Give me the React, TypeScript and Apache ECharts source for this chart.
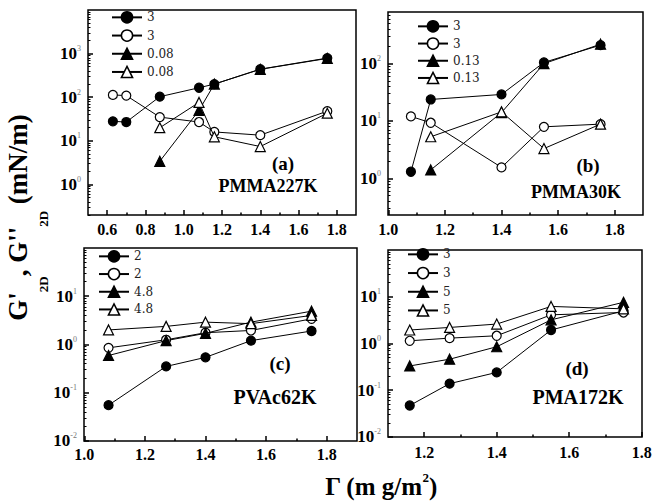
import React, { useEffect, useRef } from "react";
import * as echarts from "echarts";

const SERIF = "'Liberation Serif', 'Times New Roman', serif";

// ---- (a) PMMA227K ----
const gammaA = [0.63, 0.7, 0.875, 1.08, 1.16, 1.4, 1.75];
const gammaATri = [0.875, 1.08, 1.16, 1.4, 1.75];
const storageA3 = [28, 27, 103, 165, 200, 440, 790];
const lossA3 = [113, 109, 35, 27, 16, 13.5, 48];
const storageA008 = [3.4, 50, 200, 437, 775];
const lossA008 = [20, 76, 12.4, 7.4, 43];
const legendA = ["3", "3", "0.08", "0.08"];

// ---- (b) PMMA30K ----
const gammaB = [1.08, 1.15, 1.4, 1.55, 1.75];
const gammaBTri = [1.15, 1.4, 1.55, 1.75];
const storageB3 = [1.3, 23.7, 29, 105, 210];
const lossB3 = [12, 9.3, 1.55, 7.9, 8.8];
const storageB013 = [1.4, 14, 100, 218];
const lossB013 = [5.3, 14.4, 3.3, 8.8];
const legendB = ["3", "3", "0.13", "0.13"];

// ---- (c) PVAc62K ----
const gammaC = [1.08, 1.27, 1.4, 1.55, 1.75];
const storageC2 = [0.055, 0.35, 0.54, 1.2, 1.9];
const lossC2 = [0.85, 1.25, 1.75, 1.95, 3.4];
const storageC48 = [0.59, 1.2, 1.7, 2.9, 4.9];
const lossC48 = [2.0, 2.37, 2.9, 2.7, 4.0];
const legendC = ["2", "2", "4.8", "4.8"];

// ---- (d) PMA172K ----
const gammaD = [1.16, 1.27, 1.4, 1.55, 1.75];
const storageD3 = [0.047, 0.138, 0.24, 1.94, 5.0];
const lossD3 = [1.14, 1.3, 1.46, 4.1, 4.6];
const storageD5 = [0.33, 0.46, 0.85, 3.2, 7.6];
const lossD5 = [1.94, 2.2, 2.6, 6.2, 5.5];
const legendD = ["3", "3", "5", "5"];

// ---- tick labels ----
const xTicksA = [0.6, 0.8, 1.0, 1.2, 1.4, 1.6, 1.8];
const xMinorA = [0.7, 0.9, 1.1, 1.3, 1.5, 1.7];
const xTicksBC = [1.0, 1.2, 1.4, 1.6, 1.8];
const xMinorBC = [1.1, 1.3, 1.5, 1.7];
const xTicksD = [1.2, 1.4, 1.6, 1.8];
const xMinorD = [1.3, 1.5, 1.7];
const decadesA = [0, 1, 2, 3];
const decadesB = [0, 1, 2];
const decadesCD = [-2, -1, 0, 1];

type Line = { x: number[]; y: number[]; symbol: string; filled: boolean };
type Panel = {
  grid: { left: number; top: number; width: number; height: number };
  xRange: [number, number];
  yRange: [number, number]; // log10 extent
  xTicks: number[];
  xMinor: number[];
  decades: number[];
  labelMargin: number;
  legend: { left: number; top: number; gap: number; labels: string[] };
  lines: Line[];
  tag: { text: string; x: number; y: number };
  title: { text: string; x: number; y: number; size: number };
};

// axis ends are kept a hair outside the first/last tick so that no
// custom tick value coincides exactly with an extent bound
const panels: Panel[] = [
  {
    grid: { left: 88, top: 10, width: 268, height: 205 },
    xRange: [0.5, 1.9],
    yRange: [-0.7, 4],
    xTicks: xTicksA,
    xMinor: xMinorA,
    decades: decadesA,
    labelMargin: 6,
    legend: { left: 111, top: 11, gap: 5.5, labels: legendA },
    lines: [
      { x: gammaA, y: storageA3, symbol: "circle", filled: true },
      { x: gammaA, y: lossA3, symbol: "circle", filled: false },
      { x: gammaATri, y: storageA008, symbol: "triangle", filled: true },
      { x: gammaATri, y: lossA008, symbol: "triangle", filled: false },
    ],
    tag: { text: "(a)", x: 283, y: 163 },
    title: { text: "PMMA227K", x: 268, y: 186, size: 18 },
  },
  {
    grid: { left: 388, top: 12, width: 255, height: 203 },
    xRange: [0.999, 1.9],
    yRange: [-0.64, 2.9],
    xTicks: xTicksBC,
    xMinor: xMinorBC,
    decades: decadesB,
    labelMargin: 6,
    legend: { left: 417, top: 20, gap: 4.5, labels: legendB },
    lines: [
      { x: gammaB, y: storageB3, symbol: "circle", filled: true },
      { x: gammaB, y: lossB3, symbol: "circle", filled: false },
      { x: gammaBTri, y: storageB013, symbol: "triangle", filled: true },
      { x: gammaBTri, y: lossB013, symbol: "triangle", filled: false },
    ],
    tag: { text: "(b)", x: 588, y: 165 },
    title: { text: "PMMA30K", x: 576, y: 192, size: 18 },
  },
  {
    grid: { left: 84, top: 248, width: 273, height: 193 },
    xRange: [0.999, 1.9],
    yRange: [-2.002, 2],
    xTicks: xTicksBC,
    xMinor: xMinorBC,
    decades: decadesCD,
    labelMargin: 5,
    legend: { left: 98, top: 250, gap: 5, labels: legendC },
    lines: [
      { x: gammaC, y: storageC2, symbol: "circle", filled: true },
      { x: gammaC, y: lossC2, symbol: "circle", filled: false },
      { x: gammaC, y: storageC48, symbol: "triangle", filled: true },
      { x: gammaC, y: lossC48, symbol: "triangle", filled: false },
    ],
    tag: { text: "(c)", x: 280, y: 363 },
    title: { text: "PVAc62K", x: 275, y: 397, size: 20 },
  },
  {
    grid: { left: 388, top: 250, width: 254, height: 187 },
    xRange: [1.1, 1.801],
    yRange: [-2.002, 2],
    xTicks: xTicksD,
    xMinor: xMinorD,
    decades: decadesCD,
    labelMargin: 7,
    legend: { left: 407, top: 248, gap: 6, labels: legendD },
    lines: [
      { x: gammaD, y: storageD3, symbol: "circle", filled: true },
      { x: gammaD, y: lossD3, symbol: "circle", filled: false },
      { x: gammaD, y: storageD5, symbol: "triangle", filled: true },
      { x: gammaD, y: lossD5, symbol: "triangle", filled: false },
    ],
    tag: { text: "(d)", x: 577, y: 368 },
    title: { text: "PMA172K", x: 578, y: 397, size: 20 },
  },
];

// minor tick positions of a log axis, expressed as log10 values
function logMinorTicks(lo: number, hi: number): number[] {
  const out: number[] = [];
  for (let n = Math.floor(lo); n < Math.ceil(hi); n++) {
    for (let k = 2; k <= 9; k++) {
      const v = n + Math.log10(k);
      if (v > lo && v < hi) out.push(v);
    }
  }
  return out;
}

// a plain value axis with inward ticks; every call builds fresh objects
function tickAxis(
  gridIndex: number,
  position: string,
  range: [number, number],
  ticks: number[],
  length: number,
  width: number
): any {
  return {
    type: "value",
    gridIndex,
    position,
    min: range[0],
    max: range[1],
    axisLine: { show: false, onZero: false },
    splitLine: { show: false },
    axisLabel: { show: false },
    axisTick: {
      inside: true,
      length,
      customValues: ticks,
      lineStyle: { color: "#000", width },
    },
  };
}

// an invisible axis that only carries a name
function nameAxis(gridIndex: number, position: string, name: string, extra: any): any {
  return {
    type: "value",
    gridIndex,
    position,
    min: 0,
    max: 1,
    name,
    nameLocation: "middle",
    axisLine: { show: false, onZero: false },
    axisTick: { show: false },
    axisLabel: { show: false },
    splitLine: { show: false },
    ...extra,
  };
}

function panelText(text: string, x: number, y: number, size: number): any {
  return {
    text,
    left: x,
    top: y,
    padding: 0,
    textAlign: "center",
    textVerticalAlign: "middle",
    textStyle: {
      fontFamily: SERIF,
      fontWeight: "bold",
      fontSize: size,
      color: "#000",
    },
  };
}

function buildOption() {
  const grid: any[] = [];
  const xAxis: any[] = [];
  const yAxis: any[] = [];
  const legend: any[] = [];
  const series: any[] = [];
  const title: any[] = [];

  panels.forEach((p, i) => {
    grid.push({
      ...p.grid,
      show: true,
      borderColor: "#000",
      borderWidth: 1.5,
    });

    const xMain = tickAxis(i, "bottom", p.xRange, p.xTicks, 5, 1.5);
    xMain.axisLabel = {
      customValues: p.xTicks,
      margin: p.labelMargin,
      formatter: (v: number) => v.toFixed(1),
      color: "#000",
      fontFamily: SERIF,
      fontWeight: "bold",
      fontSize: 16,
    };
    const xi = xAxis.length;
    xAxis.push(xMain);
    xAxis.push(tickAxis(i, "bottom", p.xRange, p.xMinor, 2.5, 1.5));

    const yMain = tickAxis(i, "left", p.yRange, p.decades, 5, 1.5);
    yMain.axisLabel = {
      customValues: p.decades,
      margin: 7,
      formatter: (v: number) => `{b|10}{e|${Math.round(v)}}`,
      rich: {
        b: {
          fontFamily: SERIF,
          fontWeight: "bold",
          fontSize: 17,
          color: "#000",
          lineHeight: 18,
        },
        e: {
          fontFamily: SERIF,
          fontSize: 8,
          color: "#777",
          verticalAlign: "top",
          lineHeight: 9,
        },
      },
    };
    const yi = yAxis.length;
    yAxis.push(yMain);
    yAxis.push(
      tickAxis(i, "left", p.yRange, logMinorTicks(p.yRange[0], p.yRange[1]), 2.5, 1)
    );

    const names = p.lines.map((_, j) => `p${i}s${j}`);
    const labelOf: Record<string, string> = {};
    names.forEach((n, j) => (labelOf[n] = p.legend.labels[j]));

    legend.push({
      orient: "vertical",
      left: p.legend.left,
      top: p.legend.top,
      itemWidth: 30,
      itemHeight: 14,
      itemGap: p.legend.gap,
      padding: 0,
      selectedMode: false,
      data: names,
      formatter: (n: string) => labelOf[n],
      lineStyle: { width: 2 },
      itemStyle: { borderWidth: 1.5 },
      textStyle: {
        fontFamily: "'DejaVu Serif', serif",
        fontSize: 12,
        color: "#222",
      },
    });

    p.lines.forEach((ln, j) => {
      series.push({
        type: "line",
        name: names[j],
        xAxisIndex: xi,
        yAxisIndex: yi,
        data: ln.x.map((x, k) => [x, Math.log10(ln.y[k])]),
        symbol: ln.symbol,
        symbolSize: ln.symbol === "triangle" ? 10 : 9,
        showSymbol: true,
        silent: true,
        z: 2 + j,
        lineStyle: { color: "#000", width: 1 },
        itemStyle: {
          color: ln.filled ? "#000" : "#fff",
          borderColor: "#000",
          borderWidth: 1.2,
        },
        emphasis: { disabled: true },
      });
    });

    title.push(panelText(p.tag.text, p.tag.x, p.tag.y, 19));
    title.push(panelText(p.title.text, p.title.x, p.title.y, p.title.size));
  });

  // shared vertical title, carried by an empty grid on the far left
  grid.push({ left: 60, top: 95, width: 10, height: 245, show: false });
  xAxis.push(nameAxis(4, "bottom", "", {}));
  yAxis.push(
    nameAxis(4, "left", "{m|G'}{s|2D}{m|, G''}{s|2D}{m| (mN/m)}", {
      nameRotate: 90,
      nameGap: 10,
      nameTextStyle: {
        rich: {
          m: {
            fontFamily: SERIF,
            fontWeight: "bold",
            fontSize: 27,
            lineHeight: 46,
            verticalAlign: "top",
            color: "#000",
          },
          s: {
            fontFamily: SERIF,
            fontWeight: "bold",
            fontSize: 13,
            lineHeight: 13,
            verticalAlign: "bottom",
            color: "#000",
          },
        },
      },
    })
  );

  // shared horizontal title, carried by an empty grid under the bottom row
  grid.push({ left: 318, top: 450, width: 126, height: 10, show: false });
  yAxis.push(nameAxis(5, "left", "", {}));
  xAxis.push(
    nameAxis(5, "bottom", "{m|Γ (m g/m}{s|2}{m|)}", {
      nameGap: 11,
      nameTextStyle: {
        rich: {
          m: {
            fontFamily: SERIF,
            fontWeight: "bold",
            fontSize: 25,
            lineHeight: 30,
            color: "#000",
          },
          s: {
            fontFamily: SERIF,
            fontWeight: "bold",
            fontSize: 13,
            lineHeight: 14,
            verticalAlign: "top",
            color: "#000",
          },
        },
      },
    })
  );

  return {
    animation: false,
    backgroundColor: "#fff",
    title,
    grid,
    xAxis,
    yAxis,
    legend,
    series,
  };
}

export default function App() {
  const ref = useRef<HTMLDivElement>(null);
  useEffect(() => {
    if (!ref.current) return;
    const chart = echarts.init(ref.current, undefined, { renderer: "svg" });
    chart.setOption(buildOption() as any);
    return () => chart.dispose();
  }, []);
  return (
    <div
      ref={ref}
      style={{
        position: "fixed",
        left: 0,
        top: 0,
        width: 655,
        height: 504,
        background: "#fff",
      }}
    />
  );
}
